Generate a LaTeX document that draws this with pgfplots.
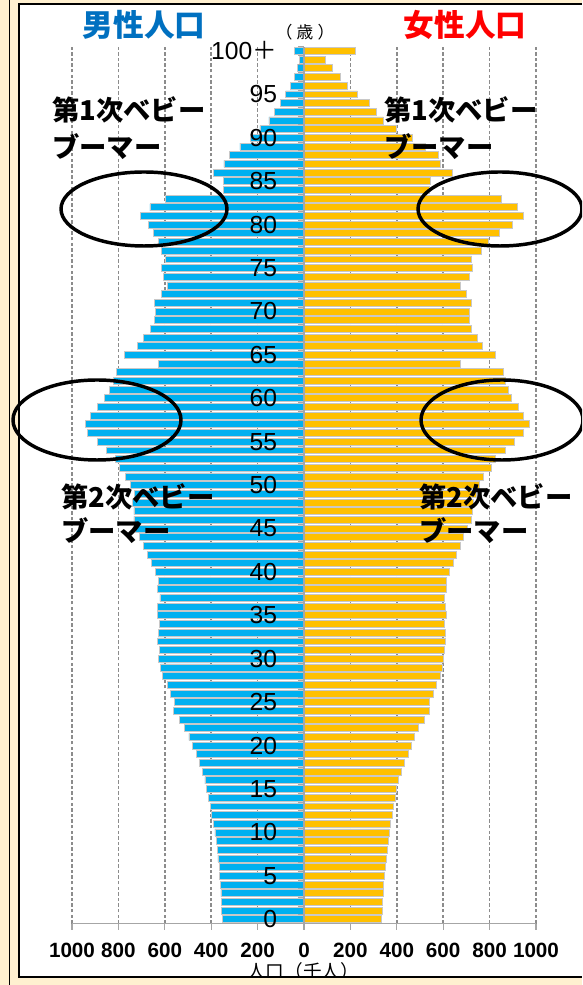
\documentclass[border=0pt]{standalone}
\usepackage{fontspec}
\setmainfont{Liberation Sans}
\newfontfamily\cjk{Noto Sans CJK JP}
\usepackage{pgfplots}
\usepackage{pgfplotstable}
\pgfplotsset{compat=1.18}

\definecolor{male}{HTML}{00B0F0}
\definecolor{female}{HTML}{FFC000}
\definecolor{maletitle}{HTML}{0070C0}
\definecolor{femaletitle}{HTML}{FF0000}
\definecolor{cream}{HTML}{FFF0D0}
\definecolor{axisgray}{HTML}{A6A6A6}
\definecolor{gridgray}{HTML}{8C8C8C}
\definecolor{edge}{HTML}{C8C8C8}

\newcommand\fs[1]{\fontsize{#1}{#1}\selectfont}

% male stored negative so it grows to the left
\pgfplotstableread{
age male female
0 -350 334
1 -354 338
2 -357 339
3 -358 341
4 -360 344
5 -365 347
6 -366 350
7 -371 355
8 -374 358
9 -379 363
10 -384 366
11 -392 371
12 -397 379
13 -402 384
14 -411 392
15 -419 400
16 -427 408
17 -438 419
18 -450 432
19 -464 448
20 -482 464
21 -496 478
22 -514 495
23 -536 518
24 -563 542
25 -557 542
26 -576 558
27 -589 571
28 -610 590
29 -618 598
30 -626 603
31 -624 606
32 -630 611
33 -626 608
34 -624 606
35 -632 614
36 -632 611
37 -621 606
38 -632 614
39 -629 614
40 -640 627
41 -656 643
42 -674 656
43 -693 675
44 -709 688
45 -725 704
46 -733 723
47 -733 726
48 -738 731
49 -730 742
50 -749 755
51 -768 774
52 -797 806
53 -813 827
54 -850 867
55 -890 907
56 -933 947
57 -941 971
58 -920 947
59 -890 923
60 -861 896
61 -837 880
62 -821 867
63 -810 859
64 -626 675
65 -773 827
66 -717 771
67 -693 747
68 -661 723
69 -645 712
70 -640 715
71 -645 723
72 -613 699
73 -589 675
74 -605 715
75 -613 726
76 -597 723
77 -616 763
78 -629 795
79 -648 843
80 -669 899
81 -704 947
82 -664 920
83 -596 851
84 -348 540
85 -348 543
86 -391 640
87 -345 589
88 -320 578
89 -276 525
90 -230 467
91 -190 400
92 -151 342
93 -129 313
94 -103 280
95 -79 230
96 -57 187
97 -43 155
98 -29 122
99 -19 93
100 -43 220
}\pyramid

\begin{document}
\begin{tikzpicture}[x=0.75pt,y=0.75pt]
\clip (0,0) rectangle (582,985);
\fill[cream] (0,0) rectangle (582,985);
\fill[white] (19,8) rectangle (582,981);

\pgfplotsset{
  pyr/.style={
    at={(54pt,46.05pt)}, anchor=south west,
    scale only axis, width=348pt, height=657.7pt,
    xmin=-1000, xmax=1000, ymin=-0.5, ymax=100.5,
    hide obscured x ticks=false, hide obscured y ticks=false,
    major tick length=4.5pt, minor tick length=4.5pt,
  },
}

% bars, grid and bottom axis
\begin{axis}[
  pyr,
  axis x line=bottom, axis y line=none,
  every outer x axis line/.append style={-},
  axis line style={draw=axisgray, line width=1.3pt, -},
  xtick={-1000,-800,...,1000},
  xticklabels={1000,800,600,400,200,0,200,400,600,800,1000},
  xtick align=outside,
  xtick style={draw=axisgray, line width=0.9pt},
  xticklabel style={font=\bfseries\fs{15.5}, inner sep=0pt, yshift=-10pt},
  ytick=\empty,
  xmajorgrids,
  grid style={draw=gridgray, line width=1.1pt, dash pattern=on 2.6pt off 1.6pt},
  xbar, bar width=0.8, bar shift=0pt,
]
\addplot[fill=male, draw=edge, line width=0.6pt] table[x=male, y=age] {\pyramid};
\addplot[fill=female, draw=edge, line width=0.6pt] table[x=female, y=age] {\pyramid};
\end{axis}

% centre axis with age labels, drawn over the bars
\begin{axis}[
  pyr,
  axis x line=none, axis y line=middle,
  every inner y axis line/.append style={-},
  axis line style={draw=axisgray, line width=1.5pt, -},
  xtick=\empty,
  ytick={0,5,...,100},
  yticklabels={0,5,10,15,20,25,30,35,40,45,50,55,60,65,70,75,80,85,90,95,{100{\cjk ＋}}},
  minor ytick={-0.5,0.5,...,100.5},
  ytick align=outside,
  major y tick style={draw=none},
  minor y tick style={draw=axisgray, line width=0.75pt},
  yticklabel style={font=\fs{18.5}, anchor=east, inner sep=0pt, xshift=-15.5pt},
]
\end{axis}

% titles
\node[font=\cjk\bfseries\fs{23}, text=maletitle] at (144,960) {男性人口};
\node[font=\cjk\bfseries\fs{23}, text=femaletitle] at (465,960) {女性人口};
\node[font=\cjk\fs{12.5}] at (305,953) {（\kern0.25em 歳\kern0.25em）};

% baby boomer notes
\begin{scope}[every node/.style={font=\cjk\bfseries\fs{20.5}, anchor=west, inner sep=0pt}]
\node at (52,875) {第1次ベビー};
\node at (52,838) {ブーマー};
\node at (384,875) {第1次ベビー};
\node at (384,838) {ブーマー};
\node at (61,488) {第2次ベビー};
\node at (61,454) {ブーマー};
\node at (419,488) {第2次ベビー};
\node at (419,454) {ブーマー};
\end{scope}

\begin{scope}[line width=2.6pt]
\draw (144,776) ellipse [x radius=83, y radius=37];
\draw (500,776) ellipse [x radius=82, y radius=37];
\draw (97,565) ellipse [x radius=84, y radius=40];
\draw (502,565) ellipse [x radius=81, y radius=40];
\end{scope}

\node[font=\cjk\fs{14}] at (303,14) {人口（千人）};

% frame
\fill[cream] (0,0) rectangle (582,7);
\draw[line width=1.5pt] (18,8) -- (582,8);
\draw[line width=1.5pt] (19,8) -- (19,981) -- (582,981);
\draw[line width=1.1pt] (9.5,0) -- (9.5,985);
\end{tikzpicture}
\end{document}
